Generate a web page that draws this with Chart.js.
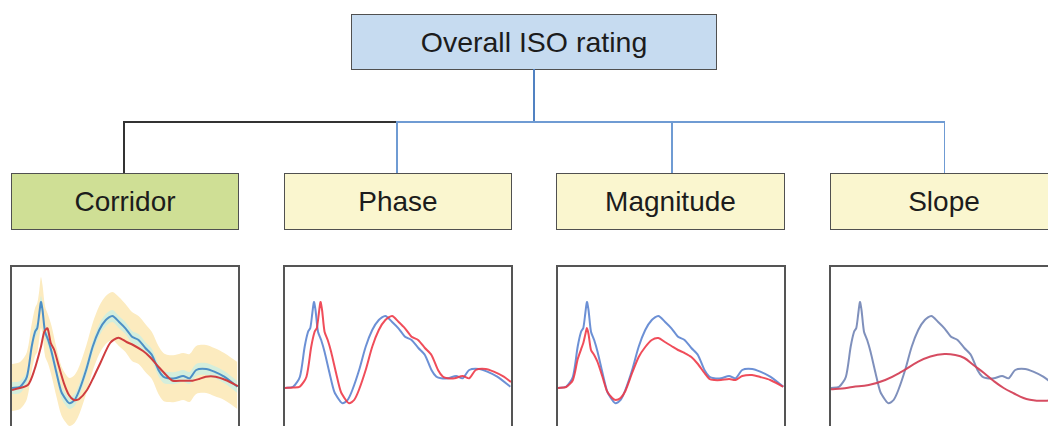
<!DOCTYPE html>
<html><head><meta charset="utf-8">
<script src="https://cdn.jsdelivr.net/npm/chart.js@4"></script>
<style>
html,body{margin:0;padding:0;background:#fff;width:1048px;height:426px;overflow:hidden;position:relative;font-family:"Liberation Sans",Arial,sans-serif;}
.box{position:absolute;box-sizing:border-box;border:1.5px solid #505050;display:flex;align-items:center;justify-content:center;color:#1c1c1c;font-size:28px;}
.ln{position:absolute;}
.panel{position:absolute;top:265px;width:230px;height:210px;box-sizing:border-box;border:2px solid #555;background:#fff;overflow:hidden;}
.panel canvas{position:absolute;left:0;top:0;}
</style></head><body>
<div class="box" style="left:351px;top:14px;width:366px;height:56px;background:#c6dbf0;font-size:28.5px;padding-top:1px;">Overall ISO rating</div>
<div class="ln" style="left:533px;top:69px;width:2px;height:53px;background:#5182c2;"></div>
<div class="ln" style="left:123px;top:121px;width:274px;height:1.5px;background:#333;"></div>
<div class="ln" style="left:397px;top:121px;width:548px;height:1.5px;background:#6f9bd3;"></div>
<div class="ln" style="left:123px;top:121px;width:1.5px;height:52px;background:#333;"></div>
<div class="ln" style="left:396px;top:121px;width:1.5px;height:52px;background:#6f9bd3;"></div>
<div class="ln" style="left:671px;top:121px;width:1.5px;height:52px;background:#6f9bd3;"></div>
<div class="ln" style="left:943.5px;top:121px;width:1.5px;height:52px;background:#6f9bd3;"></div>
<div class="box" style="left:11px;top:173px;width:228px;height:57px;background:#cfdf95;">Corridor</div>
<div class="box" style="left:284px;top:173px;width:228px;height:57px;background:#faf6cf;">Phase</div>
<div class="box" style="left:556px;top:173px;width:229px;height:57px;background:#faf6cf;">Magnitude</div>
<div class="box" style="left:830px;top:173px;width:228px;height:57px;background:#faf6cf;">Slope</div>

<div class="panel" style="left:10px;"><canvas id="c1" width="226" height="206"></canvas></div>
<div class="panel" style="left:283px;"><canvas id="c2" width="226" height="206"></canvas></div>
<div class="panel" style="left:556px;"><canvas id="c3" width="226" height="206"></canvas></div>
<div class="panel" style="left:829px;"><canvas id="c4" width="226" height="206"></canvas></div>

<script>
// Shared time axis (% of window) and the reference (blue) signal
const tRef = [0,3.6,6.6,8.7,10.2,11.2,12.1,12.8,13.5,14.6,16.0,17.5,19.7,21.8,24.0,25.5,27.7,29.8,32.8,35.7,38.6,41.5,44.4,47.3,50.2,53.1,56.0,59.0,61.9,64.8,67.0,69.1,72.1,75.7,78.6,81.5,85.9,89.5,93.9,99.7];
const blueSignal = [0,1.3,11.3,41.3,56.3,60,75,86,78,56.3,48,36.3,15,-3.7,-12,-15.3,-12,-2,18,41.3,58,68,72,66.3,59.7,51.3,48,40,33,18,11.3,9.7,9.7,12,9.7,18,19,16.3,11.3,1.3];

// Corridor panel
const corridorOuterUpper = [24,26,36,64,80,85,98,111,103,82,73,62,40,22,13,10,13,22,42,65,82,92,96,91,84,76,72,64,56,42,35,33,33,35,34,42,43,40,35,26];
const corridorOuterLower = [-23,-21,-11,17,32,36,50,60,54,32,24,12,-9,-27,-35,-38,-35,-26,-6,17,34,44,48,42,36,27,24,16,9,-6,-13,-14,-14,-12,-14,-6,-5,-8,-12,-21];
const corridorInnerUpper = [6,7,17,47,62,66,81,92,84,62,54,42,21,2,-6,-9,-6,4,24,47,64,74,78,72,66,57,54,46,39,24,17,16,16,18,16,24,25,22,17,7];
const corridorInnerLower = [-6,-5,5,35,50,54,69,80,72,50,42,30,9,-10,-18,-21,-18,-8,12,35,52,62,66,60,54,45,42,34,27,12,5,4,4,6,4,12,13,10,5,-5];
const tCorridorRed = [0,7,9.9,12.8,14.3,15.7,17.2,18.7,20.8,23.0,25.2,27.4,29.6,33.2,36.2,39.1,43.4,47.1,50.7,53.6,58.0,60.9,65.3,68.2,71.1,75.5,79.9,82.8,85.7,90.1,94.5,100];
const corridorRed = [-2,3,18,41.3,56.3,59.7,44.7,38,21.3,4.7,-7,-12,-11.3,-2,11.3,25,45,50.3,46,43,37,31.3,20,13,7.3,7.3,7.3,9,11.3,11.3,8,2];

// Phase panel
const tPhaseRed = [0,3.6,6.5,9.5,11.6,13.1,14.1,15.0,15.7,16.4,17.5,18.9,20.4,22.6,24.7,26.9,28.4,30.6,32.7,35.7,38.6,41.5,44.4,47.4,50.2,53.1,56.0,58.9,61.9,64.8,67.7,69.9,72.0,75.0,78.6,81.5,84.4,88.8,92.4,96.8,100];
const phaseRed = [0,0.5,1.3,11.3,41.3,56.3,60,75,86,78,56.3,48,36.3,15,-3.7,-12,-15.3,-12,-2,18,41.3,58,68,72,66.3,59.7,51.3,48,40,33,18,11.3,9.7,9.7,12,9.7,18,19,16.3,11.3,6];

// Magnitude panel
const magnitudeRed = [0,1,8,28.7,38.7,45,53.7,60,54,38,33,26,11,-3.7,-10,-12,-10,-3,15,31,41,48,50,46,42,38,35,31,24,15,9,8,8,9,8,12,13,11,8,1.3];

// Slope panel
const tSlopeRed = [0,5,9.5,16.7,24,31.3,38.6,44,50.2,55,59,63,67.7,72,76.4,81,85.2,88,91,95.3,100];
const slopeRed = [-1.3,-0.5,1,3,8,16.3,26.3,31.5,34,33,30,23,15,7,0,-5.5,-10,-11.8,-12.7,-12.7,-12];

const pts = (xs, ys) => xs.map((x, i) => ({x: x, y: ys[i]}));

function lineDs(xs, ys, color, extra) {
  return Object.assign({data: pts(xs, ys), borderColor: color, borderWidth: 2, pointRadius: 0, tension: 0.25, fill: false, order: 0}, extra || {});
}
function bandDs(xs, ys, color, fill, order) {
  return {data: pts(xs, ys), borderWidth: 0, borderColor: 'rgba(0,0,0,0)', backgroundColor: color, pointRadius: 0, tension: 0.3, fill: fill, order: order};
}
function makeChart(id, datasets) {
  new Chart(document.getElementById(id), {
    type: 'line',
    data: {datasets: datasets},
    options: {
      responsive: false, animation: false, events: [],
      layout: {padding: 0},
      plugins: {legend: {display: false}, tooltip: {enabled: false}, filler: {propagate: false, drawTime: 'beforeDatasetsDraw'}},
      scales: {
        x: {type: 'linear', min: 0, max: 100, display: false},
        y: {type: 'linear', min: -85, max: 121, display: false}
      }
    }
  });
}

makeChart('c1', [
  bandDs(tRef, corridorOuterUpper, '#fcebbf', '+1', 4),
  bandDs(tRef, corridorOuterLower, 'rgba(0,0,0,0)', false, 4),
  bandDs(tRef, corridorInnerUpper, '#d4eedc', '+1', 3),
  bandDs(tRef, corridorInnerLower, 'rgba(0,0,0,0)', false, 3),
  lineDs(tRef, blueSignal, '#4d8fc6', {order: 1}),
  lineDs(tCorridorRed, corridorRed, '#cf3d3f')
]);
makeChart('c2', [
  lineDs(tRef, blueSignal, 'rgba(92,132,208,0.9)', {order: 1}),
  lineDs(tPhaseRed, phaseRed, 'rgba(238,58,72,0.9)')
]);
makeChart('c3', [
  lineDs(tRef, blueSignal, 'rgba(92,132,208,0.9)', {order: 1}),
  lineDs(tRef, magnitudeRed, 'rgba(238,58,72,0.9)')
]);
makeChart('c4', [
  lineDs(tRef, blueSignal, 'rgba(120,138,184,0.95)', {order: 1}),
  lineDs(tSlopeRed, slopeRed, 'rgba(212,66,88,0.95)', {tension: 0.4})
]);
</script>
</body></html>
